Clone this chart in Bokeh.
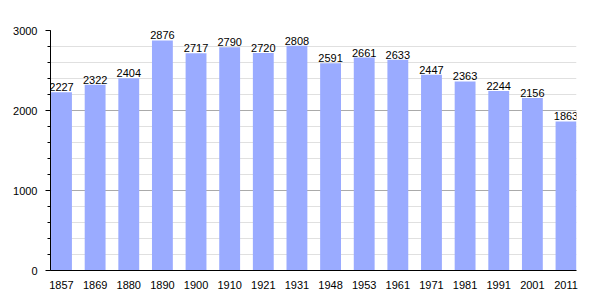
from bokeh.plotting import figure
from bokeh.models import ColumnDataSource, FixedTicker, SingleIntervalTicker, Range1d
from bokeh.core.properties import value
from bokeh.embed import file_html
from bokeh.resources import INLINE

years = ["1857", "1869", "1880", "1890", "1900", "1910", "1921", "1931",
         "1948", "1953", "1961", "1971", "1981", "1991", "2001", "2011"]
population = [2227, 2322, 2404, 2876, 2717, 2790, 2720, 2808,
              2591, 2661, 2633, 2447, 2363, 2244, 2156, 1863]
y_ticks = [0, 1000, 2000, 3000]

idx = list(range(len(years)))
src = ColumnDataSource(dict(x=idx, y=population, label=[str(v) for v in population]))

FONT = "Liberation Sans"

p = figure(width=605, height=300, output_backend="svg", toolbar_location=None,
           x_range=Range1d(-0.327, 15.312), y_range=Range1d(0, 3000),
           min_border_left=50, min_border_right=29, min_border_top=30, min_border_bottom=30)
p.outline_line_color = None
p.background_fill_color = "white"
p.border_fill_color = "white"

p.vbar(x="x", top="y", width=0.62, bottom=0, source=src,
       fill_color="#9aabff", fill_alpha=1.0, line_color=None)

p.text(x="x", y="y", text="label", source=src, text_align="center",
       text_baseline="alphabetic", y_offset=-5, text_font=value(FONT),
       text_font_size="11px", text_color="black")

# x axis
p.xaxis.ticker = FixedTicker(ticks=idx)
p.xaxis.major_label_overrides = {i: y for i, y in enumerate(years)}
p.xaxis.major_tick_line_color = None
p.xaxis.minor_tick_line_color = None
p.xaxis.axis_line_color = "black"
p.xaxis.major_label_standoff = 4
p.xaxis.major_label_text_font = FONT
p.xaxis.major_label_text_font_size = "11px"
p.xaxis.major_label_text_color = "black"

# y axis
p.yaxis.ticker = SingleIntervalTicker(interval=1000, num_minor_ticks=5)
p.yaxis.major_tick_out = 5
p.yaxis.major_tick_in = 0
p.yaxis.major_tick_line_color = "black"
p.yaxis.minor_tick_out = 3
p.yaxis.minor_tick_in = 0
p.yaxis.minor_tick_line_color = "black"
p.yaxis.axis_line_color = "black"
p.yaxis.major_label_standoff = 8
p.yaxis.major_label_text_font = FONT
p.yaxis.major_label_text_font_size = "11px"
p.yaxis.major_label_text_color = "black"

p.xgrid.grid_line_color = None
p.ygrid.grid_line_color = "#aaaaaa"
p.ygrid.minor_grid_line_color = "#e0e0e0"
p.ygrid.level = "underlay"

open("out.html", "w").write(file_html(p, INLINE))
